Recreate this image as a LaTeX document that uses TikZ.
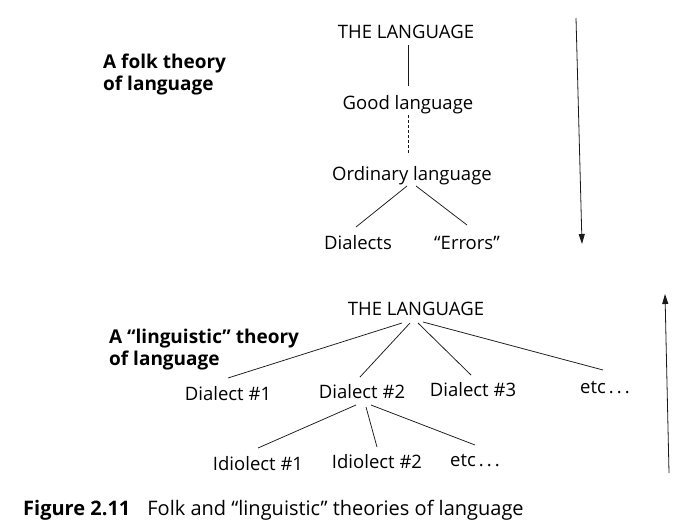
\documentclass[tikz,border=0pt]{standalone}
\usepackage{fontspec}
\setmainfont{Open Sans}
\usetikzlibrary{arrows.meta}

\begin{document}
\begin{tikzpicture}[
  x=1pt, y=-1pt,
  every node/.style={font=\fontsize{18.5}{22}\selectfont, inner sep=0pt},
  word/.style={anchor=base},
  title/.style={anchor=north west, align=left, font=\fontsize{19}{22}\selectfont\bfseries},
  branch/.style={line width=0.75pt, black!90},
  flow/.style={line width=0.8pt, black!90, -{Triangle[length=10pt,width=6pt]}},
]

% ---- Page: 698 x 530 px, origin top left, y downwards ----
\useasboundingbox (0,0) rectangle (698,530);

% ---- Folk theory (top) ----
\node[title] (folk) at (103,54) {A folk theory\\of language};

\node[word] (lang1) at (406,38) {THE LANGUAGE};
\node[word] (good)  at (408,109) {Good language};
\node[word] (ord)   at (412,180) {Ordinary language};
\node[word] (dial)  at (358,249) {Dialects};
\node[word] (err)   at (467,249) {“Errors”};

\draw[branch] ([xshift=2pt,yshift=-7pt]lang1.base) -- ([yshift=23pt]good.base);
\draw[branch, dash pattern=on 3pt off 2pt]
  ([yshift=-6pt]good.base) -- ([xshift=-4pt,yshift=27pt]ord.base);
\draw[branch] ([xshift=-5pt,yshift=-6pt]ord.base) -- ([xshift=-2pt,yshift=22pt]dial.base);
\draw[branch] ([xshift=4pt,yshift=-6pt]ord.base) -- ([yshift=24pt]err.base);

% down arrow
\coordinate (downtop) at (576,18);
\coordinate (downend) at (582,244);
\draw[flow] (downtop) -- (downend);

% ---- "Linguistic" theory (bottom) ----
\node[title] (ling) at (109,329) {A “linguistic” theory\\of language};

\node[word] (lang2) at (416,315) {THE LANGUAGE};
\node[word] (d1)    at (228,400) {Dialect \#1};
\node[word] (d2)    at (362,398) {Dialect \#2};
\node[word] (d3)    at (473,396) {Dialect \#3};
\node[word] (etc1)  at (605,393) {etc\,.\,.\,.};
\node[word] (i1)    at (258,470) {Idiolect \#1};
\node[word] (i2)    at (377,468) {Idiolect \#2};
\node[word] (etc2)  at (475,466) {etc\,.\,.\,.};

\draw[branch] ([xshift=-14pt,yshift=-8pt]lang2.base) -- ([yshift=22pt]d1.base);
\draw[branch] ([xshift=-6pt,yshift=-8pt]lang2.base) -- ([xshift=-2pt,yshift=21pt]d2.base);
\draw[branch] ([xshift=2pt,yshift=-8pt]lang2.base) -- ([xshift=-2pt,yshift=21pt]d3.base);
\draw[branch] ([xshift=7pt,yshift=-7pt]lang2.base) -- ([xshift=-2pt,yshift=23pt]etc1.base);

\draw[branch] ([xshift=-6pt,yshift=-7pt]d2.base) -- ([yshift=22pt]i1.base);
\draw[branch] ([xshift=4pt,yshift=-9pt]d2.base) -- ([yshift=21pt]i2.base);
\draw[branch] ([xshift=9pt,yshift=-7pt]d2.base) -- ([yshift=21pt]etc2.base);

% up arrow
\coordinate (uptop) at (665,294);
\coordinate (upend) at (669,473);
\draw[flow] (upend) -- (uptop);

% ---- Caption ----
\node[anchor=base west, font=\fontsize{20}{22}\selectfont] (caption) at (23,515)
  {\textbf{Figure 2.11}\hspace{17pt}Folk and “linguistic” theories of language};

\end{tikzpicture}
\end{document}
